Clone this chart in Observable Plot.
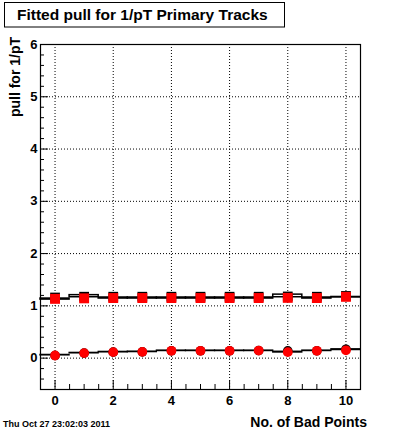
<!DOCTYPE html>
<html><head><meta charset="utf-8">
<script src="https://cdn.jsdelivr.net/npm/d3@7"></script>
<script src="https://cdn.jsdelivr.net/npm/@observablehq/plot@0.6"></script>
<style>body{margin:0;background:#fff} #chart{width:400px;height:433px}</style>
</head><body><div id="chart"></div>
<script>
// Data
const bins = [0, 1, 2, 3, 4, 5, 6, 7, 8, 9, 10];
// upper series (squares): fitted sigma of pull
const sigmaFit   = [1.134, 1.144, 1.15, 1.15, 1.15, 1.15, 1.15, 1.15, 1.153, 1.15, 1.173];
const sigmaBlack = [1.16, 1.175, 1.175, 1.175, 1.175, 1.175, 1.175, 1.175, 1.18, 1.175, 1.19];
const sigmaHist  = [1.13, 1.185, 1.15, 1.15, 1.15, 1.15, 1.15, 1.15, 1.19, 1.15, 1.165];
const sigmaErr   = [0.01, 0.02, 0.01, 0.01, 0.01, 0.01, 0.01, 0.01, 0.025, 0.01, 0.005];
// lower series (circles): fitted mean of pull
const meanFit    = [0.05, 0.096, 0.115, 0.12, 0.14, 0.14, 0.14, 0.145, 0.115, 0.14, 0.15];
const meanBlack  = [0.05, 0.096, 0.115, 0.12, 0.14, 0.14, 0.14, 0.145, 0.14, 0.14, 0.17];
const meanHist   = [0.057, 0.096, 0.115, 0.12, 0.14, 0.14, 0.14, 0.14, 0.115, 0.14, 0.162];
const meanErr    = [0.005, 0.005, 0.005, 0.005, 0.005, 0.005, 0.005, 0.005, 0.008, 0.005, 0.008];
// axes
const xMajor = [0, 2, 4, 6, 8, 10];
const yMajor = [0, 1, 2, 3, 4, 5, 6];
const xDomain = [-0.5, 10.5];
const yDomain = [-0.6, 6];
const titleText = "Fitted pull for 1/pT Primary Tracks";
const yLabel = "pull for 1/pT";
const xLabel = "No. of Bad Points";
const dateText = "Thu Oct 27 23:02:03 2011";

const xMinor = d3.range(-0.5, 10.51, 0.5).filter(v => v > -0.5 && v < 10.5 && !xMajor.includes(v));
const yMinor = d3.range(-0.6, 6.001, 0.2).map(v => +v.toFixed(1)).filter(v => v > -0.6 && v < 6 && !Number.isInteger(v));

const rows = bins.map((b, i) => ({
  bin: b,
  sigmaFit: sigmaFit[i], sigmaBlack: sigmaBlack[i], sigmaHist: sigmaHist[i], sigmaErr: sigmaErr[i],
  meanFit: meanFit[i], meanBlack: meanBlack[i], meanHist: meanHist[i], meanErr: meanErr[i]
}));

const W = 400, H = 433, ML = 40, MR = 40, MT = 44, MB = 44;
const fw = W - ML - MR, fh = H - MT - MB;
const dots = "1,2";

const svg = Plot.plot({
  width: W, height: H,
  marginLeft: ML, marginRight: MR, marginTop: MT, marginBottom: MB,
  style: {fontFamily: "'Liberation Sans', Arial, sans-serif", fontSize: "13px", fontWeight: "bold", background: "#fff", color: "#000"},
  x: {domain: xDomain},
  y: {domain: yDomain},
  marks: [
    Plot.gridX(xMajor, {stroke: "black", strokeOpacity: 1, strokeDasharray: dots}),
    Plot.gridY(yMajor, {stroke: "black", strokeOpacity: 1, strokeDasharray: dots}),
    // histograms with error boxes
    Plot.rect(rows, {x1: d => d.bin - 0.5, x2: d => d.bin + 0.5, y1: d => d.sigmaHist - d.sigmaErr, y2: d => d.sigmaHist + d.sigmaErr, fill: "none", stroke: "black", strokeWidth: 1.5}),
    Plot.rect(rows, {x1: d => d.bin - 0.5, x2: d => d.bin + 0.5, y1: d => d.meanHist - d.meanErr, y2: d => d.meanHist + d.meanErr, fill: "none", stroke: "black", strokeWidth: 1.3}),
    // markers
    Plot.dot(rows, {x: "bin", y: "sigmaBlack", symbol: "square", r: 5.5, fill: "black"}),
    Plot.dot(rows, {x: "bin", y: "sigmaFit", symbol: "square", r: 5.6, fill: "#ff0000"}),
    Plot.dot(rows, {x: "bin", y: "meanBlack", symbol: "circle", r: 4.8, fill: "black"}),
    Plot.dot(rows, {x: "bin", y: "meanFit", symbol: "circle", r: 4.9, fill: "#ff0000"}),
    // inward ticks
    Plot.tickY(yMajor, {y: d => d, stroke: "black", insetRight: fw - 8}),
    Plot.tickY(yMinor, {y: d => d, stroke: "black", insetRight: fw - 4}),
    Plot.tickX(xMajor, {x: d => d, stroke: "black", insetTop: fh - 9}),
    Plot.tickX(xMinor, {x: d => d, stroke: "black", insetTop: fh - 5}),
    Plot.frame({stroke: "black", strokeWidth: 1.2}),
    Plot.axisY(yMajor, {tickSize: 0, tickPadding: 3, label: null, tickFormat: d3.format("d"), fontSize: 13, fontWeight: "bold"}),
    Plot.axisX(xMajor, {tickSize: 0, tickPadding: 6, label: null, tickFormat: d3.format("d"), fontSize: 13, fontWeight: "bold"})
  ]
});
document.getElementById("chart").appendChild(svg);

const s = d3.select(svg);
const ff = "'Liberation Sans', Arial, sans-serif";
s.append("rect").attr("x", 4.5).attr("y", 2.5).attr("width", 280).attr("height", 24.5)
  .attr("fill", "white").attr("stroke", "black").attr("stroke-width", 1);
s.append("text").attr("x", 17).attr("y", 20).attr("text-anchor", "start").attr("font-family", ff).attr("font-size", 15.5)
  .attr("font-weight", "bold").attr("fill", "black").text(titleText);
s.append("text").attr("transform", "translate(20,37) rotate(-90)").attr("text-anchor", "end")
  .attr("font-family", ff).attr("font-size", 14).attr("font-weight", "bold").attr("fill", "black").text(yLabel);
s.append("text").attr("x", 367).attr("y", 427).attr("text-anchor", "end")
  .attr("font-family", ff).attr("font-size", 14).attr("font-weight", "bold").attr("fill", "black").text(xLabel);
s.append("text").attr("x", 3).attr("y", 427).attr("text-anchor", "start")
  .attr("font-family", ff).attr("font-size", 9).attr("font-weight", "bold").attr("fill", "black").text(dateText);
</script></body></html>
